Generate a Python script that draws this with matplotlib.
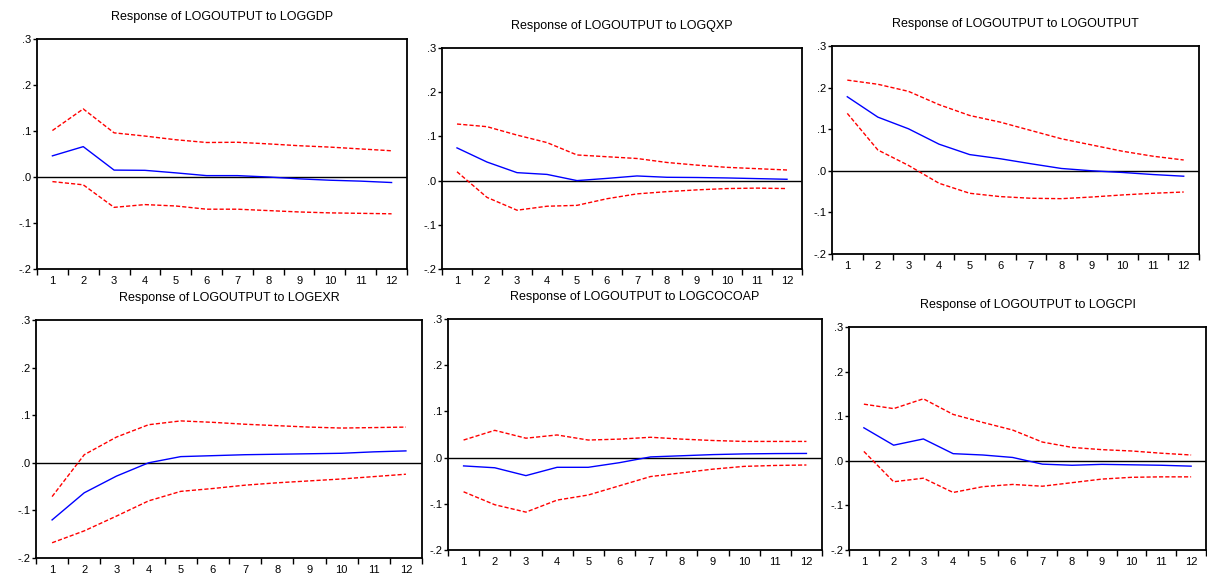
import numpy as np
import matplotlib
matplotlib.use("Agg")
import matplotlib.pyplot as plt

plt.rcParams['font.family'] = ['Liberation Sans', 'DejaVu Sans']

periods = np.arange(1, 13)
ytick_vals = [-0.2, -0.1, 0.0, 0.1, 0.2, 0.3]
ytick_labels = ["-.2", "-.1", ".0", ".1", ".2", ".3"]

titles = [
    "Response of LOGOUTPUT to LOGGDP",
    "Response of LOGOUTPUT to LOGQXP",
    "Response of LOGOUTPUT to LOGOUTPUT",
    "Response of LOGOUTPUT to LOGEXR",
    "Response of LOGOUTPUT to LOGCOCOAP",
    "Response of LOGOUTPUT to LOGCPI",
]

# impulse responses (blue) and +/- 2 s.e. bands (red)
gdp_resp = [0.046, 0.066, 0.015, 0.0145, 0.009, 0.003, 0.003, 0.0, -0.004, -0.007, -0.009, -0.012]
gdp_up = [0.101, 0.148, 0.096, 0.089, 0.081, 0.075, 0.0755, 0.072, 0.068, 0.065, 0.061, 0.057]
gdp_lo = [-0.010, -0.017, -0.066, -0.060, -0.063, -0.070, -0.070, -0.073, -0.076, -0.078, -0.079, -0.080]

qxp_resp = [0.074, 0.042, 0.018, 0.014, 0.0, 0.005, 0.0105, 0.0075, 0.007, 0.006, 0.0045, 0.003]
qxp_up = [0.128, 0.122, 0.103, 0.086, 0.058, 0.054, 0.050, 0.041, 0.035, 0.030, 0.027, 0.024]
qxp_lo = [0.020, -0.038, -0.067, -0.058, -0.056, -0.041, -0.030, -0.025, -0.021, -0.018, -0.017, -0.018]

out_resp = [0.178, 0.129, 0.101, 0.064, 0.039, 0.029, 0.017, 0.0056, 0.0, -0.004, -0.009, -0.013]
out_up = [0.218, 0.208, 0.191, 0.159, 0.133, 0.117, 0.097, 0.077, 0.062, 0.047, 0.035, 0.026]
out_lo = [0.138, 0.050, 0.013, -0.030, -0.054, -0.062, -0.066, -0.067, -0.063, -0.058, -0.054, -0.051]

exr_resp = [-0.120, -0.063, -0.028, 0.0, 0.013, 0.015, 0.017, 0.018, 0.019, 0.020, 0.023, 0.025]
exr_up = [-0.071, 0.017, 0.054, 0.080, 0.088, 0.085, 0.081, 0.078, 0.075, 0.073, 0.074, 0.075]
exr_lo = [-0.168, -0.143, -0.112, -0.080, -0.060, -0.054, -0.047, -0.042, -0.038, -0.034, -0.029, -0.024]

cocoa_resp = [-0.018, -0.022, -0.039, -0.021, -0.021, -0.011, 0.0015, 0.004, 0.0065, 0.008, 0.0087, 0.009]
cocoa_up = [0.038, 0.059, 0.042, 0.049, 0.038, 0.040, 0.044, 0.040, 0.037, 0.035, 0.035, 0.035]
cocoa_lo = [-0.074, -0.102, -0.118, -0.092, -0.081, -0.061, -0.041, -0.033, -0.025, -0.019, -0.017, -0.016]

cpi_resp = [0.074, 0.035, 0.049, 0.016, 0.013, 0.0075, -0.0075, -0.010, -0.008, -0.009, -0.010, -0.012]
cpi_up = [0.127, 0.117, 0.139, 0.104, 0.086, 0.069, 0.042, 0.030, 0.025, 0.022, 0.017, 0.013]
cpi_lo = [0.021, -0.047, -0.039, -0.071, -0.058, -0.053, -0.057, -0.049, -0.041, -0.037, -0.036, -0.036]

responses = [gdp_resp, qxp_resp, out_resp, exr_resp, cocoa_resp, cpi_resp]
uppers = [gdp_up, qxp_up, out_up, exr_up, cocoa_up, cpi_up]
lowers = [gdp_lo, qxp_lo, out_lo, exr_lo, cocoa_lo, cpi_lo]

W, H = 1207, 573
# panel boxes in pixels: left, top, right, bottom
boxes = [
    (37, 39, 407, 269),
    (442, 48, 802, 269),
    (832, 46, 1199, 254),
    (36, 320, 422, 558),
    (448, 319, 822, 550),
    (849, 327, 1206, 550),
]

fig = plt.figure(figsize=(W / 100, H / 100), dpi=100)

for i in range(6):
    l, t, r, b = boxes[i]
    ax = fig.add_axes([l / W, 1 - b / H, (r - l) / W, (b - t) / H])
    ax.axhline(0, color='black', lw=1)
    ax.plot(periods, responses[i], color='blue', lw=1)
    ax.plot(periods, uppers[i], color='red', lw=1, linestyle=(0, (3, 1.5)))
    ax.plot(periods, lowers[i], color='red', lw=1, linestyle=(0, (3, 1.5)))

    ax.set_xlim(0.5, 12.5)
    ax.set_ylim(-0.2, 0.3)
    ax.set_xticks(np.arange(0.5, 13, 1))
    ax.set_xticklabels([])
    ax.set_xticks(periods, minor=True)
    ax.set_xticklabels([str(p) for p in periods], minor=True)
    ax.tick_params(axis='x', which='major', direction='out', length=4, width=1)
    ax.tick_params(axis='x', which='minor', length=0, labelsize=8, pad=5)
    ax.set_yticks(ytick_vals)
    ax.set_yticklabels(ytick_labels)
    ax.tick_params(axis='y', direction='out', length=3, width=1, labelsize=8, pad=1)
    for s in ax.spines.values():
        s.set_linewidth(1.3)
    ax.set_title(titles[i], fontsize=9, pad=14)

fig.savefig("out.png", dpi=100)
